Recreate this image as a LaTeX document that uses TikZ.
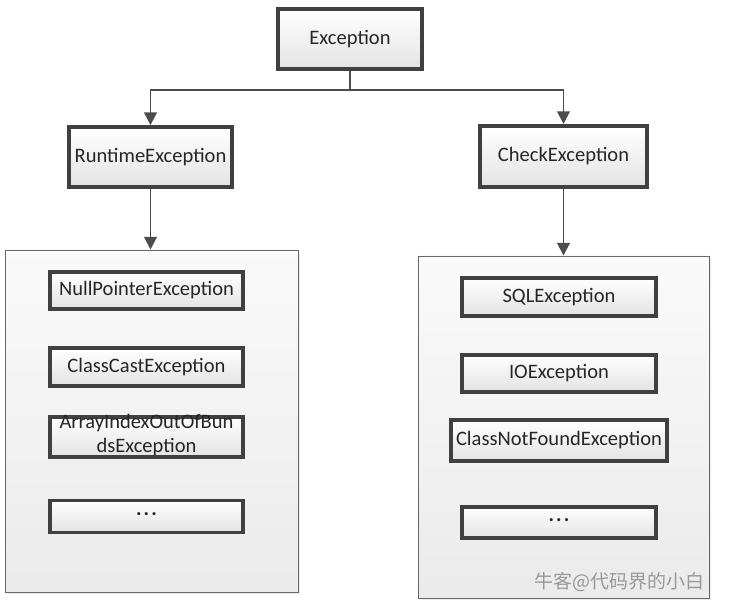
\documentclass[tikz,border=0pt]{standalone}
\usepackage{fontspec}
\setmainfont{Carlito}
\newfontfamily\cjkfont{Noto Sans CJK SC}
\usetikzlibrary{arrows.meta, shadows}

\newcommand{\moredots}{\raisebox{3pt}{\textbf{.\kern1.6pt.\kern1.6pt.}}}

\begin{document}
\begin{tikzpicture}[
    x=0.025cm, y=-0.025cm,
    font=\fontsize{14.6}{17}\selectfont,
    exc/.style={rectangle, draw=black!75, line width=2.7pt, top color=white, bottom color=black!11, text=black!85,
        inner sep=1pt, drop shadow={opacity=0.2, shadow xshift=1.2pt, shadow yshift=-1.2pt}},
    group/.style={rectangle, draw=black!60, line width=0.6pt, top color=black!2, bottom color=black!8,
        drop shadow={opacity=0.15, shadow xshift=1.5pt, shadow yshift=-1.5pt}},
    arrow/.style={-{Triangle[length=9pt, width=9pt]}, line width=1.4pt, draw=black!70}
]
    \useasboundingbox (0,0) rectangle (732,610);

    % the two groups
    \node[group, minimum width=7.32cm, minimum height=8.55cm] (rtgroup) at (151.5,421) {};
    \node[group, minimum width=7.27cm, minimum height=8.55cm] (cegroup) at (563.5,427) {};

    % top level
    \node[exc, minimum width=3.6cm, minimum height=1.5cm] (exc) at (350,39) {Exception};
    \node[exc, minimum width=4.08cm, minimum height=1.5cm] (rt) at (150.5,157) {RuntimeException};
    \node[exc, minimum width=4.18cm, minimum height=1.53cm] (ce) at (563.5,156.5) {CheckException};

    % runtime exceptions
    \node[exc, minimum width=4.83cm, minimum height=0.93cm] (npe) at (146.5,290.5) {NullPointerException};
    \node[exc, minimum width=4.83cm, minimum height=0.93cm] (cce) at (146.5,367) {ClassCastException};
    \node[exc, minimum width=4.83cm, minimum height=1.0cm] (aioobe) at (146.5,437)
        {\raisebox{-5.5pt}{\smash{\begin{tabular}{@{}c@{}}ArrayIndexOutOfBun\\dsException\end{tabular}}}};
    \node[exc, minimum width=4.83cm, minimum height=0.8cm] (rtmore) at (146.5,516.5) {\moredots};

    % checked exceptions
    \node[exc, minimum width=4.85cm, minimum height=0.95cm] (sqle) at (559,297) {SQLException};
    \node[exc, minimum width=4.85cm, minimum height=0.93cm] (ioe) at (559,373.5) {IOException};
    \node[exc, minimum width=5.4cm, minimum height=1.03cm] (cnfe) at (559,440.5) {ClassNotFoundException};
    \node[exc, minimum width=4.85cm, minimum height=0.78cm] (cemore) at (559,522.5) {\moredots};

    \node[text=black!40, anchor=east, inner sep=0pt, font=\cjkfont\fontsize{13.5}{16}\selectfont] (mark) at (705,582) {牛客@代码界的小白};

    \draw[arrow] (exc.south) -- ++(0,19) -| (rt.north);
    \draw[arrow] (exc.south) -- ++(0,19) -| (ce.north);
    \draw[arrow] (rt.south) -- (rt.south |- rtgroup.north);
    \draw[arrow] (ce.south) -- (ce.south |- cegroup.north);
\end{tikzpicture}
\end{document}
